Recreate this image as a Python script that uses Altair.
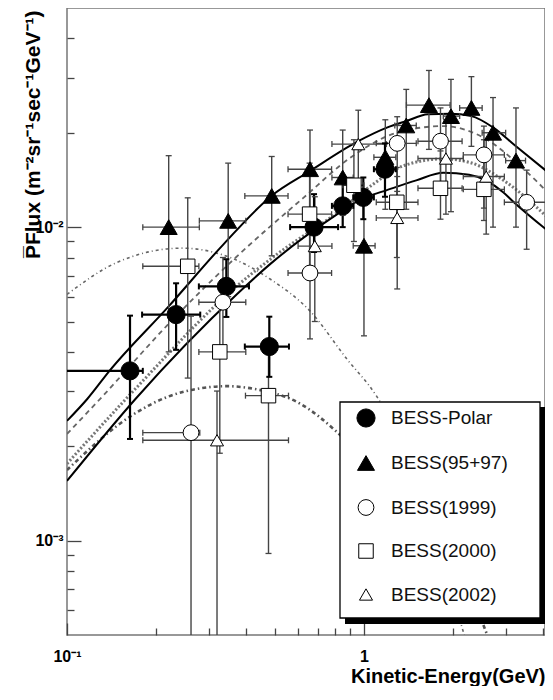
import altair as alt
import pandas as pd

# ---------------- data ----------------
series_names = ["BESS-Polar", "BESS(95+97)", "BESS(1999)", "BESS(2000)", "BESS(2002)"]

polar_E   = [0.163, 0.233, 0.344, 0.480, 0.679, 0.848, 0.995, 1.177]
polar_F   = [3.48e-3, 5.26e-3, 6.47e-3, 4.16e-3, 1.0e-2, 1.169e-2, 1.244e-2, 1.53e-2]
polar_Elo = [0.095, 0.179, 0.278, 0.397, 0.564, 0.78, 0.92, 1.08]
polar_Ehi = [0.180, 0.281, 0.41, 0.559, 0.818, 0.92, 1.08, 1.28]
polar_Flo = [2.11e-3, 4.06e-3, 5.17e-3, 3.33e-3, 8.33e-3, 1.0e-2, 1.06e-2, 1.25e-2]
polar_Fhi = [5.22e-3, 6.62e-3, 7.9e-3, 5.18e-3, 1.274e-2, 1.457e-2, 1.44e-2, 1.85e-2]

b9597_E   = [0.22, 0.349, 0.489, 0.658, 0.848, 1.0, 1.18, 1.388, 1.655, 1.963, 2.30, 2.72, 3.25]
b9597_F   = [1.0e-2, 1.047e-2, 1.258e-2, 1.53e-2, 1.44e-2, 8.72e-3, 1.67e-2, 2.11e-2, 2.45e-2, 2.26e-2, 2.4e-2, 2.0e-2, 1.63e-2]
b9597_Elo = [0.180, 0.279, 0.397, 0.555, 0.78, 0.92, 1.08, 1.27, 1.39, 1.85, 2.1, 2.5, 3.0]
b9597_Ehi = [0.279, 0.40, 0.555, 0.778, 0.92, 1.09, 1.28, 1.5, 1.95, 2.1, 2.5, 3.0, 3.5]
b9597_Flo = [4.0e-3, 6.0e-3, 8.1e-3, 1.1e-2, 1.09e-2, 4.5e-3, 1.14e-2, 1.14e-2, 1.77e-2, 1.12e-2, 1.81e-2, 1.0e-2, 1.0e-2]
b9597_Fhi = [1.69e-2, 1.6e-2, 1.68e-2, 2.04e-2, 2.04e-2, 1.25e-2, 2.2e-2, 2.75e-2, 3.16e-2, 2.96e-2, 3.02e-2, 2.59e-2, 2.4e-2]

b1999_E   = [0.2616, 0.335, 0.658, 1.294, 1.81, 2.535, 3.53]
b1999_F   = [2.21e-3, 5.76e-3, 7.14e-3, 1.85e-2, 1.88e-2, 1.70e-2, 1.2e-2]
b1999_Elo = [0.18, 0.278, 0.555, 1.1, 1.52, 2.16, 2.97]
b1999_Ehi = [0.28, 0.40, 0.778, 1.5, 2.14, 2.97, 4.5]
b1999_Flo = [1e-4, 4.0e-3, 4.4e-3, 1.3e-2, 1.3e-2, 1.15e-2, 8.5e-3]
b1999_Fhi = [5.2e-3, 8.0e-3, 9.6e-3, 2.25e-2, 2.4e-2, 2.1e-2, 1.52e-2]

b2000_E   = [0.255, 0.327, 0.477, 0.656, 0.925, 1.29, 1.81, 2.535]
b2000_F   = [7.5e-3, 4.0e-3, 2.9e-3, 1.1e-2, 1.36e-2, 1.2e-2, 1.33e-2, 1.32e-2]
b2000_Elo = [0.18, 0.278, 0.399, 0.555, 0.85, 1.1, 1.52, 2.16]
b2000_Ehi = [0.278, 0.40, 0.557, 0.778, 1.0, 1.52, 2.14, 2.97]
b2000_Flo = [3.3e-3, 1.9e-3, 9.1e-4, 7.0e-3, 9.0e-3, 8.0e-3, 1.06e-2, 1.05e-2]
b2000_Fhi = [1.24e-2, 5.6e-3, 4.2e-3, 1.6e-2, 1.9e-2, 1.55e-2, 1.75e-2, 1.9e-2]

b2002_E   = [0.32, 0.683, 0.957, 1.294, 1.888, 2.58]
b2002_F   = [2.09e-3, 8.7e-3, 1.84e-2, 1.07e-2, 1.655e-2, 1.45e-2]
b2002_Elo = [0.18, 0.6, 0.78, 1.1, 1.52, 2.16]
b2002_Ehi = [0.557, 0.78, 1.19, 1.52, 2.16, 2.97]
b2002_Flo = [1e-4, 5.0e-3, 1.35e-2, 6.35e-3, 1.1e-2, 9.5e-3]
b2002_Fhi = [3.0e-3, 1.25e-2, 2.36e-2, 1.45e-2, 2.2e-2, 1.9e-2]

# model curves
solidU_E = [0.1, 0.117, 0.139, 0.22, 0.337, 0.489, 0.658, 0.957, 1.2, 1.39, 1.64, 1.95, 2.3, 2.72, 3.25, 4.3]
solidU_F = [2.41e-3, 2.83e-3, 3.48e-3, 5.59e-3, 8.83e-3, 1.26e-2, 1.51e-2, 1.88e-2, 2.08e-2, 2.18e-2, 2.29e-2, 2.3e-2, 2.26e-2, 2.08e-2, 1.81e-2, 1.46e-2]

solidL_E = [0.1, 0.17, 0.374, 0.483, 0.768, 1.0, 1.16, 1.5, 1.85, 2.26, 2.95, 3.17, 4.3]
solidL_F = [1.55e-3, 2.83e-3, 6.12e-3, 7.62e-3, 1.06e-2, 1.24e-2, 1.3e-2, 1.41e-2, 1.49e-2, 1.47e-2, 1.29e-2, 1.21e-2, 9.5e-3]

dashed_E = [0.1, 0.131, 0.217, 0.37, 0.625, 0.92, 1.29, 1.85, 2.6, 3.35, 4.3]
dashed_F = [2.19e-3, 2.87e-3, 4.85e-3, 8.0e-3, 1.24e-2, 1.69e-2, 2.0e-2, 2.1e-2, 1.9e-2, 1.57e-2, 1.25e-2]

dotted_E = [0.1, 0.17, 0.374, 0.51, 0.81, 1.05, 1.36, 1.85, 2.26, 2.95, 4.3]
dotted_F = [1.76e-3, 3.05e-3, 6.5e-3, 8.2e-3, 1.11e-2, 1.35e-2, 1.57e-2, 1.65e-2, 1.61e-2, 1.41e-2, 1.04e-2]

dashdotU_E = [0.1, 0.147, 0.244, 0.354, 0.483, 0.658, 0.875, 1.1, 1.6, 2.15, 2.3]
dashdotU_F = [6.1e-3, 7.71e-3, 8.57e-3, 8.0e-3, 6.83e-3, 5.4e-3, 3.8e-3, 2.9e-3, 1.4e-3, 5.2e-4, 4.2e-4]

dashdotL_E = [0.1, 0.1655, 0.217, 0.281, 0.346, 0.4245, 0.6115, 0.811, 1.4, 2.6, 2.75]
dashdotL_F = [1.68e-3, 2.51e-3, 2.87e-3, 3.06e-3, 3.11e-3, 3.05e-3, 2.73e-3, 2.22e-3, 1.2e-3, 5.0e-4, 4.3e-4]

x_minor_ticks = [0.1, 0.2, 0.3, 0.4, 0.5, 0.6, 0.7, 0.8, 0.9, 1.0, 2.0, 3.0, 4.0]
y_minor_ticks = [6e-4, 7e-4, 8e-4, 9e-4, 1e-3, 2e-3, 3e-3, 4e-3, 5e-3, 6e-3, 7e-3, 8e-3, 9e-3,
                 1e-2, 2e-2, 3e-2, 4e-2]
x_label_ticks = [0.1, 1.0]
y_label_ticks = [1e-3, 1e-2]

# ---------------- tables ----------------
sets = [
    (series_names[0], polar_E, polar_F, polar_Elo, polar_Ehi, polar_Flo, polar_Fhi),
    (series_names[1], b9597_E, b9597_F, b9597_Elo, b9597_Ehi, b9597_Flo, b9597_Fhi),
    (series_names[2], b1999_E, b1999_F, b1999_Elo, b1999_Ehi, b1999_Flo, b1999_Fhi),
    (series_names[3], b2000_E, b2000_F, b2000_Elo, b2000_Ehi, b2000_Flo, b2000_Fhi),
    (series_names[4], b2002_E, b2002_F, b2002_Elo, b2002_Ehi, b2002_Flo, b2002_Fhi),
]
rows, caps = [], []
for name, E, F, Elo, Ehi, Flo, Fhi in sets:
    for i in range(len(E)):
        rows.append(dict(series=name, E=E[i], F=F[i], Elo=Elo[i], Ehi=Ehi[i], Flo=Flo[i], Fhi=Fhi[i]))
        caps.append(dict(series=name, cx=E[i], cy=Flo[i], o="h"))
        caps.append(dict(series=name, cx=E[i], cy=Fhi[i], o="h"))
        caps.append(dict(series=name, cx=Elo[i], cy=F[i], o="v"))
        caps.append(dict(series=name, cx=Ehi[i], cy=F[i], o="v"))
pts = pd.DataFrame(rows)
capdf = pd.DataFrame(caps)

W, H = 478, 627
xs = alt.Scale(type="log", domain=[0.1, 4.07], nice=False)
ys = alt.Scale(type="log", domain=[5e-4, 5e-2], nice=False)
FONT = "Liberation Sans"


def X(f):
    return alt.X(f, type="quantitative", scale=xs, axis=None)


def Y(f):
    return alt.Y(f, type="quantitative", scale=ys, axis=None)


def curve(E, F, **style):
    df = pd.DataFrame({"E": E, "F": F})
    return alt.Chart(df).mark_line(clip=True, interpolate="monotone", **style).encode(
        x=X("E"), y=Y("F"))


layers = [
    curve(dashdotU_E, dashdotU_F, color="#666", strokeWidth=1.6, strokeDash=[3, 3, 1, 3]),
    curve(dashdotL_E, dashdotL_F, color="#555", strokeWidth=2.6, strokeDash=[4, 3, 1.5, 3]),
    curve(dotted_E, dotted_F, color="#777", strokeWidth=3, strokeDash=[2, 2]),
    curve(dashed_E, dashed_F, color="#666", strokeWidth=1.8, strokeDash=[5, 4]),
    curve(solidU_E, solidU_F, color="black", strokeWidth=2),
    curve(solidL_E, solidL_F, color="black", strokeWidth=2),
]

others = pts[pts.series != series_names[0]]
polar = pts[pts.series == series_names[0]]
cap_o = capdf[capdf.series != series_names[0]]
cap_p = capdf[capdf.series == series_names[0]]

for df, col, sw in [(others, "#444", 1.4), (polar, "black", 2.2)]:
    layers.append(alt.Chart(df).mark_rule(clip=True, color=col, strokeWidth=sw).encode(
        x=X("Elo"), x2="Ehi:Q", y=Y("F")))
    layers.append(alt.Chart(df).mark_rule(clip=True, color=col, strokeWidth=sw).encode(
        x=X("E"), y=Y("Flo"), y2="Fhi:Q"))
for df, col, th in [(cap_o, "#444", 1.3), (cap_p, "black", 2)]:
    layers.append(alt.Chart(df).transform_filter(alt.datum.o == "h").mark_tick(
        clip=True, orient="horizontal", size=6, thickness=th, color=col, opacity=1).encode(
        x=X("cx"), y=Y("cy")))
    layers.append(alt.Chart(df).transform_filter(alt.datum.o == "v").mark_tick(
        clip=True, orient="vertical", size=6, thickness=th, color=col, opacity=1).encode(
        x=X("cx"), y=Y("cy")))

# legend frame with drop shadow
one = pd.DataFrame({"a": [0]})
layers.append(alt.Chart(one).mark_rect(color="black").encode(
    x=alt.value(278), x2=alt.value(478), y=alt.value(399), y2=alt.value(616)))
layers.append(alt.Chart(one).mark_rect(fill="white", stroke="black", strokeWidth=1.3).encode(
    x=alt.value(273), x2=alt.value(473), y=alt.value(394), y2=alt.value(610)))

leg = alt.Legend(
    title=None, orient="none", legendX=273, legendY=394,
    padding=6, rowPadding=23.5, symbolOffset=10, labelOffset=15,
    labelFont=FONT, labelFontSize=19, labelColor="#111", zindex=1,
    symbolStrokeWidth=1)

layers.append(alt.Chart(pts).mark_point(opacity=1, strokeWidth=1).encode(
    x=X("E"), y=Y("F"),
    shape=alt.Shape("series:N", title=None, legend=leg,
                    scale=alt.Scale(domain=series_names,
                                    range=["circle", "triangle-up", "circle", "square", "triangle-up"])),
    fill=alt.Fill("series:N", title=None, legend=leg,
                  scale=alt.Scale(domain=series_names,
                                  range=["black", "black", "white", "white", "white"])),
    stroke=alt.Stroke("series:N", title=None, legend=leg,
                      scale=alt.Scale(domain=series_names,
                                      range=["black", "black", "black", "black", "black"])),
    size=alt.Size("series:N", title=None, legend=leg,
                  scale=alt.Scale(domain=series_names, range=[330, 170, 80, 80, 100])),
))

# axes: inner ticks
xt = alt.Chart(pd.DataFrame({"v": x_minor_ticks})).mark_point(opacity=0).encode(
    x=alt.X("v:Q", scale=xs, axis=alt.Axis(
        orient="top", offset=-H, values=x_minor_ticks, labels=False, domain=False,
        grid=False, title=None, tickColor="#444", tickWidth=1.3,
        tickSize={"condition": {"test": "datum.value == 1 || datum.value == 0.1", "value": 12}, "value": 7})))
yt = alt.Chart(pd.DataFrame({"v": y_minor_ticks})).mark_point(opacity=0).encode(
    y=alt.Y("v:Q", scale=ys, axis=alt.Axis(
        orient="right", offset=-W, values=y_minor_ticks, labels=False, domain=False,
        grid=False, title=None, tickColor="#444", tickWidth=1.3,
        tickSize={"condition": {"test": "datum.value == 0.01 || datum.value == 0.001", "value": 14}, "value": 7})))
xl = alt.Chart(pd.DataFrame({"v": x_label_ticks})).mark_point(opacity=0).encode(
    x=alt.X("v:Q", scale=xs, axis=alt.Axis(
        orient="bottom", values=x_label_ticks, ticks=False, tickSize=0, domain=False, grid=False,
        labelExpr="datum.value == 1 ? '1' : '10\u207b\u00b9'", labelFlush=False,
        labelFont=FONT, labelFontSize=16, labelFontWeight="bold", labelColor="black",
        labelPadding=13, title="Kinetic-Energy(GeV)", titleFont=FONT, titleFontSize=20,
        titleFontWeight="bold", titleColor="black", titleX=W, titleY=47,
        titleAlign="right", titleBaseline="alphabetic")))
yl = alt.Chart(pd.DataFrame({"v": y_label_ticks})).mark_point(opacity=0).encode(
    y=alt.Y("v:Q", scale=ys, axis=alt.Axis(
        orient="left", values=y_label_ticks, ticks=False, tickSize=0, domain=False, grid=False,
        labelExpr="datum.value == 0.01 ? '10\u207b\u00b2' : '10\u207b\u00b3'",
        labelFont=FONT, labelFontSize=16, labelFontWeight="bold", labelColor="black",
        labelPadding=4, title="P\u0305Flux (m\u207b\u00b2sr\u207b\u00b9sec\u207b\u00b9GeV\u207b\u00b9)",
        titleFont=FONT, titleFontSize=21, titleFontWeight="bold", titleColor="black",
        titleX=-34, titleY=2, titleAngle=270, titleAlign="right", titleBaseline="middle")))

layers += [xt, yt, xl, yl]

chart = alt.layer(*layers).resolve_axis(x="independent", y="independent").properties(
    width=W, height=H,
    autosize=alt.AutoSizeParams(type="none"),
    padding={"left": 59, "top": 0, "right": 0, "bottom": 51},
).configure_view(stroke="#777", strokeWidth=1.5)

chart.save("out.html", embed_options={"renderer": "svg", "actions": False})
